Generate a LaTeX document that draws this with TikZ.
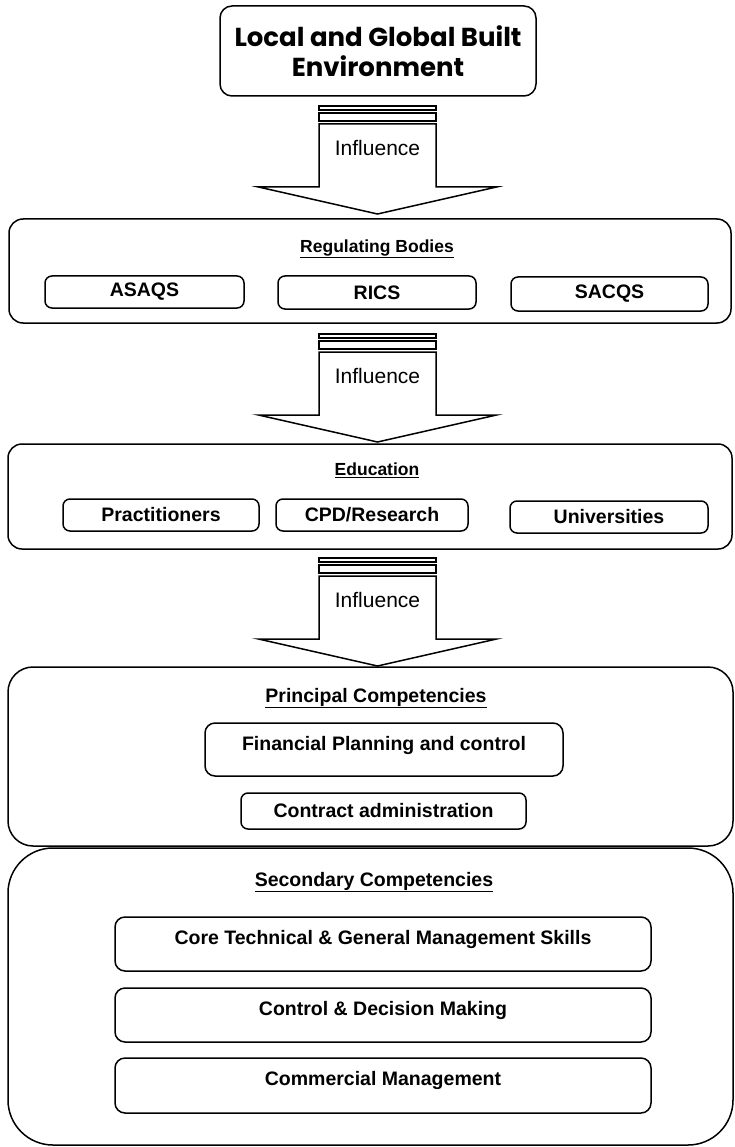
\documentclass[tikz,border=0pt]{standalone}
\usepackage{fontspec}
\setmainfont{Liberation Sans}
\newfontfamily\titlefont{Poppins}
\begin{document}
\begin{tikzpicture}[x=1pt,y=-1pt,
  outer/.style={draw, line width=1.5pt, rounded corners=#1, inner sep=0pt},
  inbox/.style={draw, line width=1.5pt, rounded corners=7pt, inner sep=0pt,
    font=\fontsize{19.5}{22}\selectfont\bfseries},
  heading/.style={font=\fontsize{19.5}{22}\selectfont\bfseries},
  smallheading/.style={font=\fontsize{17.5}{20}\selectfont\bfseries},
  infl/.style={font=\fontsize{21}{24}\selectfont},
  pics/influence/.style={code={
    \draw[line width=1.5pt] (-58.5,0) rectangle (58.5,4);
    \draw[line width=1.5pt] (-58.5,7) rectangle (58.5,15);
    \draw[line width=1.5pt, line join=miter]
      (-58.5,18) -- (58.5,18) -- (58.5,81) -- (119,81) -- (0,108)
      -- (-119,81) -- (-58.5,81) -- cycle;
    \node[infl] (-inf) at (0,42) {Influence};
  }}]
\useasboundingbox (0,0) rectangle (734,1147);

% top box
\node[outer=12pt, minimum width=316pt, minimum height=90pt, align=center,
  font=\titlefont\bfseries\fontsize{26}{30}\selectfont] (env) at (378,51)
  {Local and Global Built\\Environment};

\pic (a1) at (377.5,106) {influence};

% regulating bodies
\node[outer=14pt, minimum width=722pt, minimum height=104pt] (reg) at (370,271) {};
\node[smallheading] (regt) at (377,249) {\underline{Regulating Bodies}};
\node[inbox, minimum width=199pt, minimum height=32pt] (asaqs) at (144.5,292) {ASAQS};
\node[inbox, minimum width=198pt, minimum height=33pt] (rics) at (377,292.5) {RICS};
\node[inbox, minimum width=197pt, minimum height=34pt] (sacqs) at (609.5,294) {SACQS};

\pic (a2) at (377.5,334) {influence};

% education
\node[outer=14pt, minimum width=724pt, minimum height=105pt] (edu) at (370,496.5) {};
\node[smallheading] (edut) at (377,470) {\underline{Education}};
\node[inbox, minimum width=196pt, minimum height=32pt] (prac) at (161,515) {Practitioners};
\node[inbox, minimum width=192pt, minimum height=32pt] (cpd) at (372,515) {CPD/Research};
\node[inbox, minimum width=198pt, minimum height=32pt] (univ) at (609,517) {Universities};

\pic (a3) at (377.5,558) {influence};

% principal competencies
\node[outer=25pt, minimum width=725pt, minimum height=179pt] (prin) at (370.5,756.5) {};
\node[heading] (print) at (376,698) {\underline{Principal Competencies}};
\node[inbox, rounded corners=10pt, minimum width=358pt, minimum height=53pt] (fin) at (384,749.5) {};
\node[heading] (fint) at (384,745) {Financial Planning and control};
\node[inbox, minimum width=285pt, minimum height=36pt] (con) at (383.5,811) {Contract administration};

% secondary competencies
\node[outer=45pt, minimum width=725pt, minimum height=297pt] (sec) at (370.5,996.5) {};
\node[heading] (sect) at (374,882) {\underline{Secondary Competencies}};
\node[inbox, rounded corners=10pt, minimum width=536pt, minimum height=54pt] (core) at (383,944) {};
\node[heading] (coret) at (383,939) {Core Technical \& General Management Skills};
\node[inbox, rounded corners=10pt, minimum width=536pt, minimum height=54pt] (ctrl) at (383,1015) {};
\node[heading] (ctrlt) at (383,1010) {Control \& Decision Making};
\node[inbox, rounded corners=10pt, minimum width=536pt, minimum height=55pt] (comm) at (383,1085.5) {};
\node[heading] (commt) at (383,1080) {Commercial Management};
\end{tikzpicture}
\end{document}
